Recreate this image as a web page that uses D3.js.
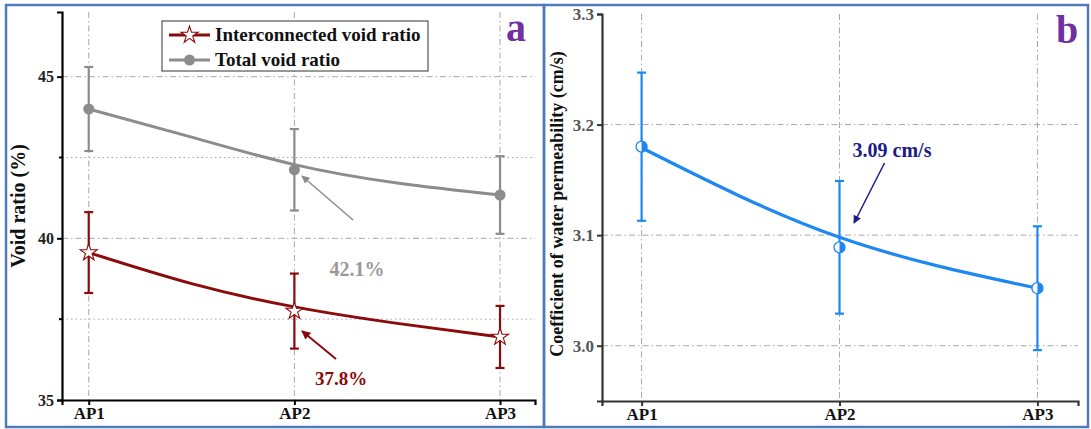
<!DOCTYPE html>
<html><head><meta charset="utf-8">
<script src="https://cdn.jsdelivr.net/npm/d3@7"></script>
<style>body{margin:0;background:#fff}svg{display:block}text{font-family:"Liberation Serif","Times New Roman",serif;font-weight:bold}</style>
</head><body>
<svg id="c" width="1091" height="429"></svg>
<script>
const categories = ["AP1","AP2","AP3"];
// Panel a
const totalVoid = [44.0, 42.12, 41.34];
const totalVoidErr = [1.3, 1.26, 1.2];
const interVoid = [39.56, 37.75, 36.95];
const interVoidErr = [1.25, 1.16, 0.96];
const fitPos = [0, 0.5, 1, 1.5, 2];
const totalFit = [44.0, 43.13, 42.28, 41.71, 41.34];
const interFit = [39.56, 38.6, 37.88, 37.37, 36.95];
const aMajorTicks = [35, 40, 45];
const aMinorTicks = [37.5, 42.5];
// Panel b
const perm = [3.18, 3.089, 3.052];
const permErr = [0.067, 0.06, 0.056];
const permFit = [3.179, 3.135, 3.098, 3.072, 3.052];
const bTicks = [3.0, 3.1, 3.2, 3.3];

const svg = d3.select("#c");
const RED = "#8b0a0a", GRAY = "#8c8c8c", BLUE = "#1e88f0", NAVY = "#1c1c85", BORDER = "#4f7bbd";

svg.append("defs").html(`
<marker id="ag" viewBox="0 0 10 10" refX="9" refY="5" markerWidth="10" markerHeight="8" markerUnits="userSpaceOnUse" orient="auto"><path d="M0,0L10,5L0,10z" fill="${GRAY}"/></marker>
<marker id="ar" viewBox="0 0 10 10" refX="9" refY="5" markerWidth="11" markerHeight="9" markerUnits="userSpaceOnUse" orient="auto"><path d="M0,0L10,5L0,10z" fill="${RED}"/></marker>
<marker id="an" viewBox="0 0 10 10" refX="9" refY="5" markerWidth="11" markerHeight="8" markerUnits="userSpaceOnUse" orient="auto"><path d="M0,0L10,5L0,10z" fill="${NAVY}"/></marker>`);

// Borders
svg.append("rect").attr("x",6).attr("y",5).attr("width",538).attr("height",422).attr("fill","none").attr("stroke",BORDER).attr("stroke-width",2.5);
svg.append("rect").attr("x",544).attr("y",5).attr("width",544).attr("height",422).attr("fill","none").attr("stroke",BORDER).attr("stroke-width",2.5);

const GRID = "#a8a8a8";
function grid(g, x, y, xs, ys, dotted, top, bottom, left, right){
  xs.forEach(v=>g.append("line").attr("x1",x(v)).attr("x2",x(v)).attr("y1",top).attr("y2",bottom)
    .attr("stroke",GRID).attr("stroke-width",1).attr("stroke-dasharray","6,3,1.5,3"));
  ys.forEach(v=>g.append("line").attr("x1",left).attr("x2",right).attr("y1",y(v)).attr("y2",y(v))
    .attr("stroke",GRID).attr("stroke-width",1).attr("stroke-dasharray","6,3,1.5,3"));
  dotted.forEach(v=>g.append("line").attr("x1",left).attr("x2",right).attr("y1",y(v)).attr("y2",y(v))
    .attr("stroke",GRID).attr("stroke-width",1).attr("stroke-dasharray","1.5,3"));
}
function errBars(g, x, y, vals, errs, color, cap){
  vals.forEach((v,i)=>{
    const cx = x(i);
    g.append("line").attr("x1",cx).attr("x2",cx).attr("y1",y(v+errs[i])).attr("y2",y(v-errs[i])).attr("stroke",color).attr("stroke-width",2.2);
    [v+errs[i], v-errs[i]].forEach(e=>g.append("line").attr("x1",cx-cap).attr("x2",cx+cap).attr("y1",y(e)).attr("y2",y(e)).attr("stroke",color).attr("stroke-width",2.2));
  });
}

// ---------- Panel a ----------
{
  const g = svg.append("g");
  const x = d3.scaleLinear().domain([-0.13, 2.17]).range([62, 535]);
  const y = d3.scaleLinear().domain([35, 47]).range([400, 12]);
  grid(g, x, y, [0,1,2], [40,45], aMinorTicks, 12, 400, 62, 535);

  const line = d3.line().x((d,i)=>x(fitPos[i])).y(d=>y(d)).curve(d3.curveNatural);
  errBars(g, x, y, totalVoid, totalVoidErr, GRAY, 4.5);
  errBars(g, x, y, interVoid, interVoidErr, RED, 4.5);
  g.append("path").attr("d", line(totalFit)).attr("fill","none").attr("stroke",GRAY).attr("stroke-width",3);
  g.append("path").attr("d", line(interFit)).attr("fill","none").attr("stroke",RED).attr("stroke-width",3);
  totalVoid.forEach((v,i)=>g.append("circle").attr("cx",x(i)).attr("cy",y(v)).attr("r",5.5).attr("fill",GRAY));
  const star = d3.symbol(d3.symbolStar).size(90);
  interVoid.forEach((v,i)=>g.append("path").attr("d",star()).attr("transform",`translate(${x(i)},${y(v)})`).attr("fill","#fff").attr("stroke",RED).attr("stroke-width",1.1));

  // axes
  const ya = g.append("g").attr("transform","translate(62,0)").call(d3.axisLeft(y).tickValues(aMajorTicks).tickSize(5).tickPadding(3));
  ya.select(".domain").attr("stroke","#000").attr("stroke-width",2.2);
  ya.selectAll(".tick line").attr("stroke","#000").attr("stroke-width",2);
  ya.selectAll("text").attr("font-size",16).attr("fill","#222").style("font-family","Liberation Serif").style("font-weight","bold");
  aMinorTicks.forEach(v=>g.append("line").attr("x1",59).attr("x2",62).attr("y1",y(v)).attr("y2",y(v)).attr("stroke","#000").attr("stroke-width",2));
  const xa = g.append("g").attr("transform","translate(0,400)").call(d3.axisBottom(x).tickValues([0,1,2]).tickFormat(i=>categories[i]).tickSize(5).tickPadding(2));
  xa.select(".domain").attr("stroke","#000").attr("stroke-width",2.2);
  xa.selectAll(".tick line").attr("stroke","#000").attr("stroke-width",2);
  xa.selectAll("text").attr("font-size",17).attr("fill","#111").style("font-family","Liberation Serif").style("font-weight","bold");

  g.append("text").attr("transform","translate(25,206) rotate(-90)").attr("text-anchor","middle").attr("font-size",20).attr("fill","#111").text("Void ratio (%)");

  // annotations
  g.append("line").attr("x1",353).attr("y1",220).attr("x2",302).attr("y2",176).attr("stroke",GRAY).attr("stroke-width",1.5).attr("marker-end","url(#ag)");
  g.append("text").attr("x",357).attr("y",276).attr("text-anchor","middle").attr("font-size",20).attr("fill","#999").text("42.1%");
  g.append("line").attr("x1",336).attr("y1",359).attr("x2",302).attr("y2",331).attr("stroke",RED).attr("stroke-width",2).attr("marker-end","url(#ar)");
  g.append("text").attr("x",341).attr("y",385).attr("text-anchor","middle").attr("font-size",19).attr("fill",RED).text("37.8%");

  // legend
  g.append("rect").attr("x",162).attr("y",21).attr("width",266).attr("height",50).attr("fill","#fff").attr("stroke","#333").attr("stroke-width",1);
  g.append("line").attr("x1",169).attr("x2",210).attr("y1",35).attr("y2",35).attr("stroke",RED).attr("stroke-width",3);
  g.append("path").attr("d",star()).attr("transform","translate(189.5,35)").attr("fill","#fff").attr("stroke",RED).attr("stroke-width",1.1);
  g.append("line").attr("x1",169).attr("x2",210).attr("y1",60).attr("y2",60).attr("stroke",GRAY).attr("stroke-width",3);
  g.append("circle").attr("cx",189.5).attr("cy",60).attr("r",5.5).attr("fill",GRAY);
  g.append("text").attr("x",215).attr("y",41).attr("font-size",19).attr("fill","#111").text("Interconnected void ratio");
  g.append("text").attr("x",215).attr("y",66).attr("font-size",19).attr("fill","#111").text("Total void ratio");

  g.append("text").attr("x",516).attr("y",41).attr("text-anchor","middle").attr("font-size",40).attr("fill","#7030a0").text("a");
}

// ---------- Panel b ----------
{
  const g = svg.append("g");
  const x = d3.scaleLinear().domain([-0.2, 2.205]).range([602, 1078]);
  const y = d3.scaleLinear().domain([2.95, 3.3]).range([401, 14]);
  grid(g, x, y, [0,1,2], [3.0,3.1,3.2], [], 14, 401, 602, 1078);

  const line = d3.line().x((d,i)=>x(fitPos[i])).y(d=>y(d)).curve(d3.curveNatural);
  errBars(g, x, y, perm, permErr, BLUE, 4.5);
  g.append("path").attr("d", line(permFit)).attr("fill","none").attr("stroke",BLUE).attr("stroke-width",3.2);
  perm.forEach((v,i)=>{
    const cx = x(i), cy = y(v), r = 5.5;
    g.append("circle").attr("cx",cx).attr("cy",cy).attr("r",r).attr("fill","#fff").attr("stroke",BLUE).attr("stroke-width",1.3);
    g.append("path").attr("d",`M${cx},${cy-r}A${r},${r} 0 0 1 ${cx},${cy+r}Z`).attr("fill",BLUE);
  });

  const ya = g.append("g").attr("transform","translate(602,0)").call(d3.axisLeft(y).tickValues(bTicks).tickFormat(d3.format(".1f")).tickSize(5).tickPadding(3));
  ya.select(".domain").attr("stroke","#333").attr("stroke-width",2.2);
  ya.selectAll(".tick line").attr("stroke","#333").attr("stroke-width",2);
  ya.selectAll("text").attr("font-size",17).attr("fill","#555").style("font-family","Liberation Serif").style("font-weight","bold");
  const xa = g.append("g").attr("transform","translate(0,401)").call(d3.axisBottom(x).tickValues([0,1,2]).tickFormat(i=>categories[i]).tickSize(5).tickPadding(2));
  xa.select(".domain").attr("stroke","#333").attr("stroke-width",2.2);
  xa.selectAll(".tick line").attr("stroke","#333").attr("stroke-width",2);
  xa.selectAll("text").attr("font-size",17).attr("fill","#111").style("font-family","Liberation Serif").style("font-weight","bold");

  g.append("text").attr("transform","translate(563,204) rotate(-90)").attr("text-anchor","middle").attr("font-size",18).attr("fill","#111").text("Coefficient of water permeability (cm/s)");

  g.append("line").attr("x1",884.5).attr("y1",163).attr("x2",854).attr("y2",223).attr("stroke",NAVY).attr("stroke-width",1.5).attr("marker-end","url(#an)");
  g.append("text").attr("x",892).attr("y",157).attr("text-anchor","middle").attr("font-size",20).attr("fill",NAVY).text("3.09 cm/s");

  g.append("text").attr("x",1067).attr("y",43).attr("text-anchor","middle").attr("font-size",40).attr("fill","#7030a0").text("b");
}
</script>
</body></html>
